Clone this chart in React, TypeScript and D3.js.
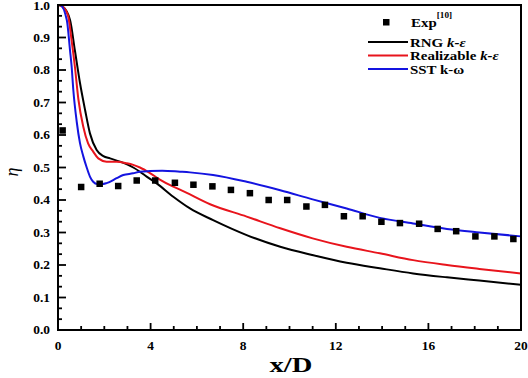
import React from "react";
import * as d3 from "d3";

const expX = [0.2, 1.0, 1.8, 2.6, 3.4, 4.2, 5.05, 5.85, 6.67, 7.47, 8.29, 9.1, 9.9, 10.73, 11.53, 12.35, 13.16, 13.97, 14.77, 15.6, 16.4, 17.2, 18.03, 18.85, 19.67];
const expY = [0.614, 0.44, 0.45, 0.443, 0.46, 0.46, 0.453, 0.447, 0.442, 0.431, 0.421, 0.40, 0.40, 0.38, 0.385, 0.35, 0.35, 0.333, 0.329, 0.327, 0.311, 0.304, 0.288, 0.288, 0.28];

const rngX = [0, 0.2, 0.52, 0.73, 0.95, 1.17, 1.38, 1.67, 1.96, 2.25, 2.68, 3.25, 3.54, 3.83, 4.26, 4.98, 5.7, 6.7, 8.15, 9.6, 11.03, 12.47, 13.9, 15.34, 16.8, 18.2, 20];
const rngY = [1.0, 0.995, 0.954, 0.86, 0.76, 0.677, 0.605, 0.554, 0.535, 0.528, 0.518, 0.50, 0.487, 0.472, 0.451, 0.41, 0.374, 0.338, 0.292, 0.256, 0.23, 0.207, 0.19, 0.174, 0.162, 0.152, 0.139];

const realX = [0, 0.2, 0.44, 0.59, 0.73, 0.88, 1.09, 1.3, 1.52, 1.74, 2.1, 2.53, 2.97, 3.25, 3.54, 3.97, 4.4, 4.98, 5.27, 6.57, 8.15, 9.6, 11.0, 12.47, 13.9, 15.34, 16.8, 18.2, 20];
const realY = [1.0, 0.995, 0.965, 0.89, 0.81, 0.71, 0.626, 0.574, 0.549, 0.528, 0.518, 0.518, 0.513, 0.508, 0.50, 0.483, 0.463, 0.441, 0.432, 0.387, 0.349, 0.313, 0.282, 0.256, 0.236, 0.215, 0.20, 0.188, 0.174];

const sstX = [0, 0.09, 0.38, 0.52, 0.59, 0.66, 0.81, 0.95, 1.09, 1.24, 1.38, 1.52, 1.7, 1.9, 2.1, 2.53, 2.82, 3.24, 3.54, 3.97, 4.5, 5.27, 5.7, 6.7, 8.15, 9.6, 11.0, 12.47, 13.9, 15.34, 16.8, 18.2, 20];
const sstY = [1.0, 1.0, 0.954, 0.86, 0.81, 0.74, 0.64, 0.575, 0.535, 0.50, 0.472, 0.456, 0.449, 0.449, 0.452, 0.467, 0.477, 0.482, 0.487, 0.489, 0.49, 0.487, 0.485, 0.477, 0.456, 0.43, 0.402, 0.374, 0.345, 0.328, 0.311, 0.30, 0.288];

const xMajor = [0, 4, 8, 12, 16, 20];
const yMajor = [0, 0.1, 0.2, 0.3, 0.4, 0.5, 0.6, 0.7, 0.8, 0.9, 1.0];

const W = 528, H = 378;
const L = 58, R = 521, T = 5, B = 330;
const FONT = "'Liberation Serif', 'Times New Roman', serif";

export default function App() {
  const x = d3.scaleLinear().domain([0, 20]).range([L, R]);
  const y = d3.scaleLinear().domain([0, 1]).range([B, T]);
  const mk = (xs: number[], ys: number[]) =>
    d3.line<number>().x((_, i) => x(xs[i])).y((_, i) => y(ys[i])).curve(d3.curveMonotoneX)(xs) || "";

  const xMinor = d3.range(0, 21, 1).filter((v) => v % 4 !== 0);
  const yMinor: number[] = [];
  for (let i = 0; i < 10; i++) {
    yMinor.push(i / 10 + 1 / 30, i / 10 + 2 / 30);
  }

  const series = [
    { xs: rngX, ys: rngY, color: "#000000" },
    { xs: realX, ys: realY, color: "#e8141c" },
    { xs: sstX, ys: sstY, color: "#1414e0" },
  ];

  return (
    <svg width={W} height={H} style={{ position: "absolute", left: 0, top: 0, background: "#fff" }} fontFamily={FONT}>
      <rect x={0} y={0} width={W} height={H} fill="#fff" />
      <defs>
        <clipPath id="plot">
          <rect x={L} y={T} width={R - L} height={B - T} />
        </clipPath>
      </defs>
      <g clipPath="url(#plot)">
        {series.map((s, i) => (
          <path key={i} d={mk(s.xs, s.ys)} fill="none" stroke={s.color} strokeWidth={2} />
        ))}
      </g>
      {expX.map((v, i) => (
        <rect key={i} x={x(v) - 3.25} y={y(expY[i]) - 3.25} width={6.5} height={6.5} fill="#000" />
      ))}
      {xMajor.map((v) => (
        <line key={"xm" + v} x1={x(v)} x2={x(v)} y1={B} y2={B - 7} stroke="#000" strokeWidth={1.8} />
      ))}
      {xMinor.map((v) => (
        <line key={"xn" + v} x1={x(v)} x2={x(v)} y1={B} y2={B - 4} stroke="#000" strokeWidth={1.8} />
      ))}
      {yMajor.map((v) => (
        <line key={"ym" + v} x1={L} x2={L + 8} y1={y(v)} y2={y(v)} stroke="#000" strokeWidth={1.8} />
      ))}
      {yMinor.map((v, i) => (
        <line key={"yn" + i} x1={L} x2={L + 4} y1={y(v)} y2={y(v)} stroke="#000" strokeWidth={1.8} />
      ))}
      <rect x={L} y={T} width={R - L} height={B - T} fill="none" stroke="#000" strokeWidth={2} />
      {xMajor.map((v) => (
        <text key={"xl" + v} transform={`translate(${x(v)},${B + 20}) scale(1.12,1)`} textAnchor="middle" fontSize={12} fontWeight="bold">
          {v}
        </text>
      ))}
      {yMajor.map((v) => (
        <text key={"yl" + v} transform={`translate(50,${Math.max(y(v) + 4, 10)}) scale(1.12,1)`} textAnchor="end" fontSize={12} fontWeight="bold">
          {v.toFixed(1)}
        </text>
      ))}
      <text transform="translate(291,372) scale(1.3,1)" textAnchor="middle" fontSize={22} fontWeight="bold">x/D</text>
      <text transform="translate(18,172) rotate(-90)" textAnchor="middle" fontSize={18} fontStyle="italic">η</text>
      <rect x={383} y={19} width={6.5} height={6.5} fill="#000" />
      <text transform="translate(411,27) scale(1.15,1)" fontSize={13} fontWeight="bold">
        Exp<tspan fontSize={8} dy={-9}>[10]</tspan>
      </text>
      {[
        { c: "#000000", a: "RNG ", b: "k-ε", it: true },
        { c: "#e8141c", a: "Realizable ", b: "k-ε", it: true },
        { c: "#1414e0", a: "SST ", b: "k-ω", it: false },
      ].map((e, i) => (
        <g key={i}>
          <line x1={368} x2={408} y1={42 + i * 13.5} y2={42 + i * 13.5} stroke={e.c} strokeWidth={2} />
          <text transform={`translate(410,${46.5 + i * 13.5}) scale(1.15,1)`} fontSize={13} fontWeight="bold">
            {e.a}
            <tspan fontStyle={e.it ? "italic" : "normal"}>{e.b}</tspan>
          </text>
        </g>
      ))}
    </svg>
  );
}
